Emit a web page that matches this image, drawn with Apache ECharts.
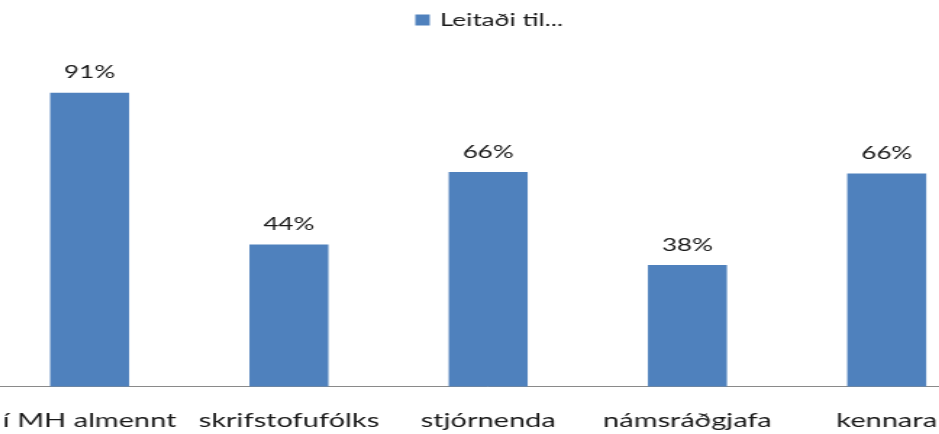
<!DOCTYPE html>
<html>
<head>
<meta charset="utf-8">
<script src="https://cdn.jsdelivr.net/npm/echarts@6/dist/echarts.min.js"></script>
<style>
html,body{margin:0;padding:0;background:#fff;overflow:hidden;width:939px;height:434px;}
#wrap{width:939px;height:434px;overflow:hidden;position:relative;}
#chart{width:690px;height:434px;transform:scaleX(1.449);transform-origin:0 0;position:absolute;left:-10px;top:0;}
</style>
</head>
<body>
<div id="wrap"><div id="chart"></div></div>
<script>
var categories = ['í MH almennt', 'skrifstofufólks', 'stjórnenda', 'námsráðgjafa', 'kennara'];
var seriesName = 'Leitaði til...';
var values = [91, 44, 66.4, 37.6, 66.0];

var chart = echarts.init(document.getElementById('chart'), null, {renderer: 'canvas'});
chart.setOption({
  animation: false,
  backgroundColor: '#ffffff',
  legend: {
    show: true,
    top: 6,
    left: 288.5,
    itemWidth: 10,
    itemHeight: 11,
    icon: 'rect',
    itemGap: 10,
    textStyle: {fontFamily: 'Lato', fontSize: 18, color: '#1a1a1a', padding: [0, 0, 0, 2]},
    data: [seriesName]
  },
  grid: {left: 0, width: 687.6, top: 63.6, bottom: 47.5, containLabel: false},
  xAxis: {
    type: 'category',
    data: categories,
    boundaryGap: true,
    axisLine: {show: true, lineStyle: {color: '#8a8a8a', width: 1}},
    axisTick: {show: false},
    axisLabel: {
      interval: 0,
      margin: 24,
      fontFamily: 'Lato',
      fontSize: 20,
      color: '#1a1a1a'
    },
    splitLine: {show: false}
  },
  yAxis: {
    type: 'value',
    min: 0,
    max: 100,
    show: false,
    splitLine: {show: false}
  },
  series: [{
    name: seriesName,
    type: 'bar',
    data: values,
    barWidth: 54.5,
    itemStyle: {color: '#4F81BD'},
    label: {
      show: true,
      position: 'top',
      distance: 11,
      fontFamily: 'Lato',
      fontSize: 18,
      color: '#1a1a1a',
      formatter: function (p) { return Math.round(p.value) + '%'; }
    }
  }]
});
</script>
</body>
</html>
